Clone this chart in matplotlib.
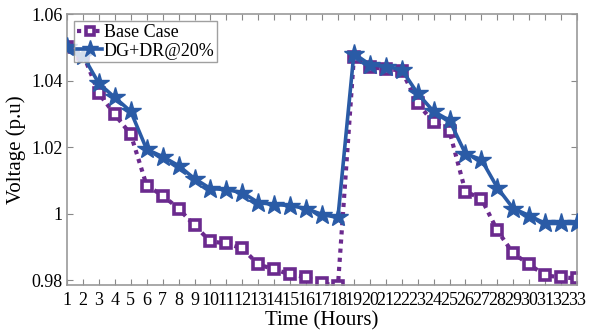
import matplotlib
matplotlib.use("Agg")
import matplotlib.pyplot as plt

hours = list(range(1, 34))
base_case = [1.050, 1.048, 1.0361, 1.0298, 1.0238, 1.0084, 1.0054, 1.0015, 0.9964, 0.9916,
             0.9910, 0.9895, 0.9847, 0.9832, 0.9817, 0.9808, 0.9790, 0.9783, 1.0470, 1.0440,
             1.0435, 1.0430, 1.0331, 1.0274, 1.0247, 1.0066, 1.0045, 0.9949, 0.9880, 0.9847,
             0.9814, 0.9808, 0.9805]
dg_dr = [1.050, 1.0475, 1.0391, 1.0349, 1.0307, 1.0193, 1.0171, 1.0144, 1.0105, 1.0075,
         1.0072, 1.0063, 1.0033, 1.0027, 1.0024, 1.0015, 0.9997, 0.9988, 1.0481, 1.0448,
         1.0442, 1.0433, 1.0361, 1.0307, 1.0280, 1.0180, 1.0162, 1.0078, 1.0015, 0.9994,
         0.9970, 0.9970, 0.9970]
yticks = [0.98, 1.0, 1.02, 1.04, 1.06]
ytick_labels = ["0.98", "1", "1.02", "1.04", "1.06"]

plt.rcParams['font.family'] = ['Liberation Serif', 'DejaVu Serif']

fig = plt.figure(figsize=(5.89, 3.33), dpi=100)
ax = fig.add_axes([67/589, 1-285/333, 510/589, 271/333])

purple = '#6b2a8e'
blue = '#2a5ba6'
ax.plot(hours, base_case, color=purple, linestyle=(0, (1, 1.2)), linewidth=3,
        marker='s', markersize=6.5, markerfacecolor='white', markeredgecolor=purple,
        markeredgewidth=2.6, label='Base Case', zorder=2)
ax.plot(hours, dg_dr, color=blue, linestyle='-', linewidth=2.6,
        marker='*', markersize=15, markerfacecolor=blue, markeredgecolor=blue,
        label='DG+DR@20%', zorder=3)

ax.set_xlim(1, 33)
ax.set_ylim(0.9785, 1.06)
ax.set_xticks(hours)
ax.set_xticklabels([str(h) for h in hours])
ax.set_yticks(yticks)
ax.set_yticklabels(ytick_labels)
ax.tick_params(axis='both', labelsize=13, direction='in', length=4, color='#888888',
               top=True, right=True, pad=3)
ax.tick_params(axis='x', pad=5)
for s in ax.spines.values():
    s.set_color('#999999')
    s.set_linewidth(1.2)

ax.set_xlabel('Time (Hours)', fontsize=15, labelpad=2)
ax.set_ylabel('Voltage (p.u)', fontsize=15, labelpad=4)

leg = ax.legend(loc='upper left', fontsize=13, frameon=True, fancybox=False,
                handlelength=1.4, handletextpad=0.1, borderpad=0.15, labelspacing=0.1,
                borderaxespad=0.4, markerscale=0.85)
leg.get_frame().set_edgecolor('#888888')
leg.get_frame().set_linewidth(1.0)

fig.savefig('out.png', dpi=100)
